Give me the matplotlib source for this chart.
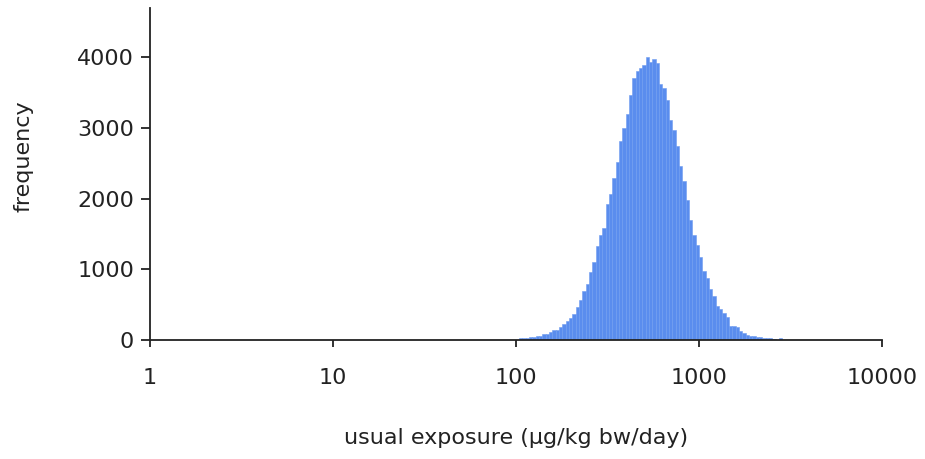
import numpy as np
import matplotlib
matplotlib.use("Agg")
import matplotlib.pyplot as plt
from matplotlib.ticker import NullLocator

# histogram of usual exposure, log10-spaced bins
bin_first = 103.85
bin_last = 2853.0
counts = [24, 24, 28, 38, 38, 61, 61, 85, 85, 108,
          146, 146, 179, 226, 273, 311, 367, 471, 565, 688,
          791, 965, 1107, 1328, 1484, 1587, 1931, 2072, 2294, 2520,
          2817, 3005, 3203, 3462, 3711, 3815, 3850, 3886, 4004, 3933,
          3971, 3919, 3627, 3570, 3401, 3118, 2977, 2751, 2468, 2247,
          1988, 1705, 1484, 1338, 1168, 975, 881, 716, 626, 480,
          433, 377, 320, 203, 203, 179, 127, 104, 71, 57,
          57, 38, 38, 24, 24, 24, 10, 0, 33]

xticks = [1, 10, 100, 1000, 10000]
xtick_labels = ["1", "10", "100", "1000", "10000"]
yticks = [0, 1000, 2000, 3000, 4000]

edges = np.logspace(np.log10(bin_first), np.log10(bin_last), len(counts) + 1)
widths = np.diff(edges)

fig = plt.figure(figsize=(9.25, 4.59), dpi=100)
ax = fig.add_axes([0.1622, 0.2593, 0.7913, 0.7233])

ax.bar(edges[:-1], counts, width=widths, align="edge",
       color="#5a8dee", edgecolor="#6f9cf0", linewidth=0.4)

ax.set_xscale("log")
ax.set_xlim(1, 10000)
ax.set_ylim(0, 4700)
ax.set_xticks(xticks)
ax.set_xticklabels(xtick_labels)
ax.xaxis.set_minor_locator(NullLocator())
ax.set_yticks(yticks)

for s in ["top", "right"]:
    ax.spines[s].set_visible(False)
for s in ["left", "bottom"]:
    ax.spines[s].set_color("#222222")
    ax.spines[s].set_linewidth(1.3)

ax.tick_params(axis="x", direction="out", length=5, width=1.3, pad=15,
               labelsize=16, colors="#222222")
ax.tick_params(axis="y", direction="out", length=6.5, width=1.3, pad=5,
               labelsize=16, colors="#222222")

ax.set_xlabel("usual exposure (µg/kg bw/day)", fontsize=16, color="#222222")
ax.set_ylabel("frequency", fontsize=16, color="#222222")
ax.xaxis.set_label_coords(0.5, -0.265)
ax.yaxis.set_label_coords(-0.159, 0.554)

fig.savefig("out.png", dpi=100)
